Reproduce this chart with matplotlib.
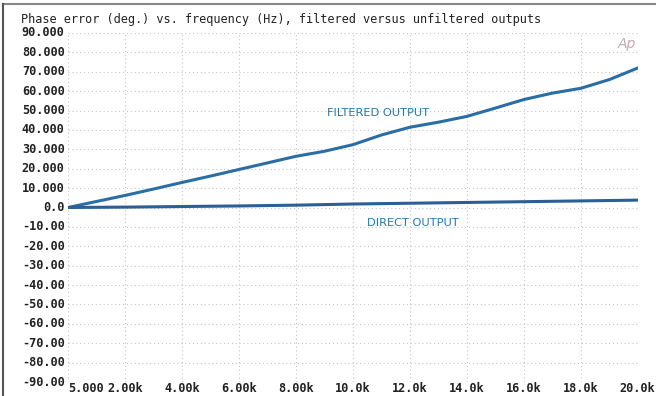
import matplotlib
matplotlib.use("Agg")
import matplotlib.pyplot as plt
from matplotlib.lines import Line2D

# frequency points (Hz) and phase error (deg.)
freq = [5, 1000, 2000, 3000, 4000, 5000, 6000, 7000, 8000, 9000, 10000,
        11000, 12000, 13000, 14000, 15000, 16000, 17000, 18000, 19000, 20000]
filtered = [0.0, 3.1, 6.2, 9.5, 12.9, 16.2, 19.6, 23.0, 26.4, 29.0, 32.4,
            37.4, 41.4, 44.0, 47.0, 51.3, 55.7, 59.0, 61.5, 66.0, 72.0]
direct = [0.0, 0.1, 0.2, 0.35, 0.5, 0.65, 0.8, 1.0, 1.2, 1.5, 1.8,
          2.0, 2.2, 2.4, 2.6, 2.8, 3.0, 3.2, 3.4, 3.6, 3.8]

xticks = [5, 2000, 4000, 6000, 8000, 10000, 12000, 14000, 16000, 18000, 20000]
xlabels = ["5.000", "2.00k", "4.00k", "6.00k", "8.00k", "10.0k",
           "12.0k", "14.0k", "16.0k", "18.0k", "20.0k"]
yticks = list(range(90, -91, -10))
ylabels = ["90.000", "80.000", "70.000", "60.000", "50.000", "40.000",
           "30.000", "20.000", "10.000", "0.0", "-10.00", "-20.00",
           "-30.00", "-40.00", "-50.00", "-60.00", "-70.00", "-80.00",
           "-90.00"]

W, H = 656, 396
fig = plt.figure(figsize=(W / 100, H / 100), dpi=100)
fig.patch.set_facecolor("white")

ax = fig.add_axes([68 / W, 1 - 382 / H, 570 / W, 349 / H])
ax.set_xlim(5, 20000)
ax.set_ylim(-90, 90)

ax.plot(freq, filtered, color="#2a6ea6", lw=2.2, solid_capstyle="round")
ax.plot(freq, direct, color="#2b5f95", lw=2.2, solid_capstyle="round")

# dotted grid, including the frame
for s in ax.spines.values():
    s.set_visible(False)
ax.set_xticks(xticks)
ax.set_yticks(yticks)
ax.grid(True, color="#c4c4c4", lw=0.8, ls=(0, (1, 2.5)))
ax.tick_params(length=0, labelbottom=False, labelleft=False)

mono = dict(family="DejaVu Sans Mono", fontsize=8.6, color="#222222")
for v, lab in zip(yticks, ylabels):
    ax.text(-0.006, (v + 90) / 180, lab, transform=ax.transAxes,
            ha="right", va="center", fontweight="bold", **mono)
last = len(xticks) - 1
for i, (v, lab) in enumerate(zip(xticks, xlabels)):
    xf = (v - 5) / (20000 - 5)
    ha = "center"
    if i == 0:
        ha = "left"
    elif i == last:
        ha = "right"
        xf = (655 - 68) / 570
    ax.text(xf, -0.02, lab, transform=ax.transAxes,
            ha=ha, va="center", fontweight="bold", **mono)

fig.text(21 / W, 1 - 20 / H,
         "Phase error (deg.) vs. frequency (Hz), filtered versus unfiltered outputs",
         ha="left", va="center", **mono)

lab_col = "#2079b0"
ax.text(9090, 48.5, "FILTERED OUTPUT", color=lab_col, fontsize=8.2,
        family="DejaVu Sans", ha="left", va="center")
ax.text(10490, -8.2, "DIRECT OUTPUT", color=lab_col, fontsize=8.2,
        family="DejaVu Sans", ha="left", va="center")

ax.text(19600, 84.5, "Ap", color="#c4aab4", fontsize=10, style="italic",
        family="DejaVu Sans", ha="center", va="center")

# page border
fig.add_artist(Line2D([3 / W, 1], [1 - 4 / H, 1 - 4 / H],
                      transform=fig.transFigure, color="#888888", lw=1.5))
fig.add_artist(Line2D([3 / W, 3 / W], [0, 1 - 4 / H],
                      transform=fig.transFigure, color="#555555", lw=1.5))

fig.savefig("out.png", dpi=100, facecolor="white")
